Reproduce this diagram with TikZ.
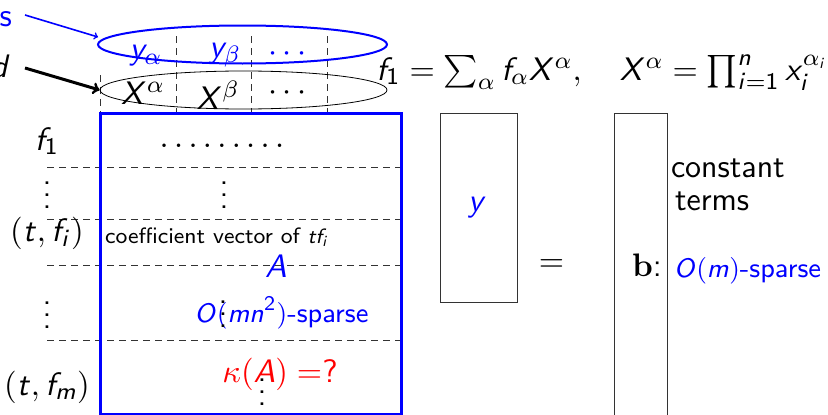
\documentclass[tikz,border=0pt]{standalone}
\usepackage{amsmath}
\usetikzlibrary{shapes.geometric}
\DeclareSymbolFont{sfit}{OT1}{cmss}{m}{sl}
\DeclareSymbolFont{sfup}{OT1}{cmss}{m}{n}
\DeclareMathSymbol{A}{\mathalpha}{sfit}{`A}
\DeclareMathSymbol{O}{\mathalpha}{sfit}{`O}
\DeclareMathSymbol{X}{\mathalpha}{sfit}{`X}
\DeclareMathSymbol{d}{\mathalpha}{sfit}{`d}
\DeclareMathSymbol{f}{\mathalpha}{sfit}{`f}
\DeclareMathSymbol{i}{\mathalpha}{sfit}{`i}
\DeclareMathSymbol{m}{\mathalpha}{sfit}{`m}
\DeclareMathSymbol{n}{\mathalpha}{sfit}{`n}
\DeclareMathSymbol{t}{\mathalpha}{sfit}{`t}
\DeclareMathSymbol{x}{\mathalpha}{sfit}{`x}
\DeclareMathSymbol{y}{\mathalpha}{sfit}{`y}
\DeclareMathSymbol{1}{\mathalpha}{sfup}{`1}
\DeclareMathSymbol{2}{\mathalpha}{sfup}{`2}
\DeclareMathSymbol{?}{\mathclose}{sfup}{`?}
\begin{document}
\begin{tikzpicture}[x=1pt,y=-1pt,
  lab/.style={inner sep=0pt, outer sep=0pt, scale=2.97, font=\sffamily\fontsize{11}{13}\selectfont},
  labsmall/.style={lab, font=\sffamily\fontsize{9.3}{11}\selectfont},
  labtiny/.style={lab, font=\sffamily\fontsize{7.5}{9}\selectfont},
  rowline/.style={draw=black!80, line width=0.9pt, dash pattern=on 7pt off 5pt},
  colline/.style={draw=black!80, line width=0.9pt, dash pattern=on 7pt off 5pt},
  thinbox/.style={draw=black!80, line width=1pt, inner sep=0pt, outer sep=0pt, rectangle},
]
\useasboundingbox (0,0) rectangle (828,415);
\fill[white] (0,0) rectangle (828,415);
\clip (0,0) rectangle (828,415);

% header columns
\draw[colline] (100,75) -- (100,113);
\foreach \cx in {176,251,327} { \draw[colline] (\cx,36) -- (\cx,113); }

% ellipses
\node[ellipse, draw=blue, line width=2pt, minimum width=289pt, minimum height=38pt, inner sep=0pt] (ellY) at (242.5,44.5) {};
\node[ellipse, draw=black, line width=0.8pt, minimum width=287pt, minimum height=38pt, inner sep=0pt] (ellX) at (243.5,90) {};

% row lines
\foreach \ry in {167,219,265,340} { \draw[rowline] (47,\ry) -- (401,\ry); }

% boxes
\node[draw=blue, line width=3pt, minimum width=301.5pt, minimum height=300.5pt, inner sep=0pt, outer sep=0pt] (Amat) at (250.75,263.75) {};
\node[thinbox, minimum width=77pt, minimum height=189pt] (ybox) at (478.5,207.5) {};
\node[thinbox, minimum width=53pt, minimum height=330pt] (bbox) at (640.5,278) {};

% side labels and arrows
\node[lab, blue, anchor=base west] (sLab) at (-0.5,27) {s};
\node[lab, anchor=base east] (dLab) at (10.5,77) {$d$};
\coordinate (sTail) at (25,15);
\coordinate (sHead) at (98,37);
\coordinate (dTail) at (25,68);
\draw[blue, line width=1.6pt, ->] (sTail) -- (sHead);
\draw[black, line width=3pt, ->] (dTail) -- (ellX.west);

% header labels
\node[lab, blue, anchor=base] (ya) at (146,59.5) {$y_\alpha$};
\node[lab, blue, anchor=base] (yb) at (225,57.5) {$y_\beta$};
\node[lab, blue, anchor=base] (yd) at (290,61) {$\cdots$};
\node[lab, anchor=base] (Xa) at (143,104) {$X^\alpha$};
\node[lab, anchor=base] (Xb) at (218,109.5) {$X^\beta$};
\node[lab, anchor=base] (Xd) at (290,100.6) {$\cdots$};

% equation
\node[lab, anchor=base] (eq) at (602,80) {$f_1 = \sum_\alpha f_\alpha X^\alpha,\quad X^\alpha = \prod_{i=1}^n x_i^{\alpha_i}$};

% left labels
\node[lab, anchor=base] (Lf1) at (47,150) {$f_1$};
\node[lab, anchor=base] (Lv1) at (47,208) {$\vdots$};
\node[lab, anchor=base] (Lti) at (47,241) {$(t,f_i)$};
\node[lab, anchor=base] (Lv2) at (47,328) {$\vdots$};
\node[lab, anchor=base] (Ltm) at (47,395) {$(t,f_m)$};

% matrix content
\node[lab, anchor=base] (Mdots) at (222,147) {$\ldots\ldots\ldots$};
\node[lab, anchor=base] (Mv1) at (224,208) {$\vdots$};
\node[labtiny, anchor=base west] (coef) at (105,243) {coefficient vector of $tf_i$};
\node[lab, blue, anchor=base] (Alab) at (276,277) {$A$};
\node[labsmall, blue, anchor=base] (Asp) at (281.5,322) {$O(mn^2)$-sparse};
\node[lab, anchor=base] (Mv2) at (223,327) {$\vdots$};
\node[lab, red, anchor=base] (kap) at (280,382) {$\kappa(A) =?$};
\node[lab, anchor=base] (Mv3) at (262,405) {$\vdots$};

% right side
\node[lab, blue, anchor=base] (ylab) at (477.5,211) {$y$};
\node[lab, anchor=base] (eqs) at (551.5,271) {$=$};
\node[lab, anchor=base west] (blab) at (632,276) {$\mathbf{b}$:};
\node[labsmall, blue, anchor=base west] (bsp) at (674,277) {$O(m)$-sparse};
\node[lab, anchor=base west] (c1) at (671,177) {constant};
\node[lab, anchor=base west] (c2) at (675,210) {terms};
\end{tikzpicture}
\end{document}
